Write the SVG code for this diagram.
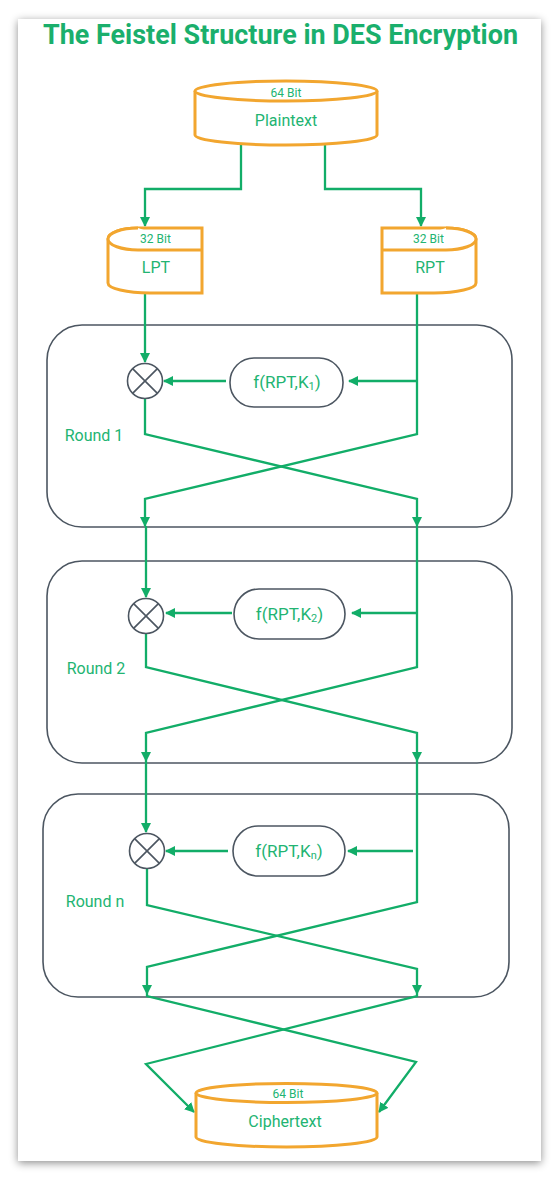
<svg xmlns="http://www.w3.org/2000/svg" width="560" height="1180" viewBox="0 0 560 1180">
<style>
.t{font-family:Roboto,"Liberation Sans",sans-serif;fill:#22b472;text-anchor:middle}
.cyl{fill:#fff;stroke:#f2a62f;stroke-width:3}
.rnd{fill:none;stroke:#4c5661;stroke-width:1.6}
.fb{fill:#fff;stroke:#4c5661;stroke-width:1.6}
.ln{fill:none;stroke:#12ad68;stroke-width:2.3;stroke-linejoin:miter}
.ar{marker-end:url(#ah)}
.xc{fill:#fff;stroke:#4c5661;stroke-width:1.6}
</style>
<defs>
<filter id="sh" x="-10%" y="-5%" width="120%" height="110%">
<feDropShadow dx="0" dy="2" stdDeviation="4" flood-color="#000" flood-opacity="0.45"/>
</filter>
<marker id="ah" viewBox="0 0 10 10" refX="9" refY="5" markerWidth="10" markerHeight="10" markerUnits="userSpaceOnUse" orient="auto">
<path d="M0,0 L10,5 L0,10 z" fill="#12ad68"/>
</marker>
</defs>
<rect x="0" y="0" width="560" height="1180" fill="#fff"/>
<rect x="18" y="19" width="523" height="1142" fill="#fff" filter="url(#sh)"/>
<text x="280.5" y="44" class="t" style="font-weight:700;font-size:27px;fill:#1aaf6c" textLength="475" lengthAdjust="spacingAndGlyphs">The Feistel Structure in DES Encryption</text>

<g id="rounds">
<rect id="round1" class="rnd" x="47" y="325" width="465" height="202" rx="35"/>
<rect id="round2" class="rnd" x="47" y="561" width="465" height="202" rx="35"/>
<rect id="roundn" class="rnd" x="43" y="794" width="466" height="203" rx="35"/>
<text x="94" y="441" class="t" style="font-size:16px">Round 1</text>
<text x="96" y="674" class="t" style="font-size:16px">Round 2</text>
<text x="95" y="907" class="t" style="font-size:16px">Round n</text>
</g>

<g id="connectors">
<path class="ln ar" d="M241,143 V189 H145 V226"/>
<path class="ln ar" d="M325,143 V189 H421 V226"/>
<path class="ln ar" d="M145,293 V362"/>
<path class="ln ar" d="M417,293 V434 L145,499 V526"/>
<path class="ln ar" d="M417,381 H349"/>
<path class="ln ar" d="M226,381 H164"/>
<path class="ln ar" d="M145,398 V434 L417,499 V526"/>
<path class="ln ar" d="M146,526 V597"/>
<path class="ln ar" d="M417,526 V667 L146,733 V761"/>
<path class="ln ar" d="M417,613 H352"/>
<path class="ln ar" d="M232,613 H166"/>
<path class="ln ar" d="M146,633 V667 L417,733 V761"/>
<path class="ln ar" d="M146,761 V832"/>
<path class="ln ar" d="M417,761 V902 L147,967 V994"/>
<path class="ln ar" d="M413,851 H348"/>
<path class="ln ar" d="M228,851 H166"/>
<path class="ln ar" d="M147,868 V905 L417,969 V994"/>
<path class="ln ar" d="M147,994 V996 L416,1062 L379,1112"/>
<path class="ln ar" d="M417,994 V996 L146,1064 L194,1112"/>
</g>

<g id="plaintext">
<path class="cyl" d="M195,91 V135 A91,10 0 0 0 377,135 V91"/>
<ellipse class="cyl" cx="286" cy="91" rx="91" ry="10"/>
<text x="286" y="97" class="t" style="font-size:12px">64 Bit</text>
<text x="286" y="126" class="t" style="font-size:16px">Plaintext</text>
</g>

<g id="lpt">
<path class="cyl" d="M108,239 V283 A42,10 0 0 0 150,293 H202 V228 H138 A30,11 0 0 0 108,239 Z"/>
<path class="cyl" d="M138,228 A30,11 0 0 0 138,250 H202" fill="none"/>
<text x="155.5" y="243" class="t" style="font-size:12px">32 Bit</text>
<text x="156" y="273" class="t" style="font-size:16px">LPT</text>
</g>

<g id="rpt">
<g transform="matrix(-1 0 0 1 584 0)">
<path class="cyl" d="M108,239 V283 A42,10 0 0 0 150,293 H202 V228 H138 A30,11 0 0 0 108,239 Z"/>
<path class="cyl" d="M138,228 A30,11 0 0 0 138,250 H202" fill="none"/>
</g>
<text x="428.5" y="243" class="t" style="font-size:12px">32 Bit</text>
<text x="430" y="273" class="t" style="font-size:16px">RPT</text>
</g>

<g id="xor1">
<circle class="xc" cx="145" cy="381" r="17.5"/>
<path class="rnd" d="M132.6,368.6 L157.4,393.4 M157.4,368.6 L132.6,393.4"/>
</g>
<g id="f1">
<rect class="fb" x="230" y="358" width="113" height="49" rx="24"/>
<text x="287" y="388" class="t" style="font-size:17px">f(RPT,K<tspan style="font-size:11px" dy="2">1</tspan><tspan dy="-2">)</tspan></text>
</g>

<g id="xor2">
<circle class="xc" cx="146" cy="616" r="17.5"/>
<path class="rnd" d="M133.6,603.6 L158.4,628.4 M158.4,603.6 L133.6,628.4"/>
</g>
<g id="f2">
<rect class="fb" x="234" y="589" width="111" height="50" rx="25"/>
<text x="289.5" y="620" class="t" style="font-size:17px">f(RPT,K<tspan style="font-size:11px" dy="2">2</tspan><tspan dy="-2">)</tspan></text>
</g>

<g id="xorn">
<circle class="xc" cx="147" cy="851" r="17.5"/>
<path class="rnd" d="M134.6,838.6 L159.4,863.4 M159.4,838.6 L134.6,863.4"/>
</g>
<g id="fn">
<rect class="fb" x="233" y="826" width="112" height="50" rx="25"/>
<text x="289" y="857" class="t" style="font-size:17px">f(RPT,K<tspan style="font-size:11px" dy="2">n</tspan><tspan dy="-2">)</tspan></text>
</g>

<g id="ciphertext">
<path class="cyl" d="M196,1093 V1137 A90.5,10 0 0 0 377,1137 V1093"/>
<ellipse class="cyl" cx="286.5" cy="1093" rx="90.5" ry="9.5"/>
<text x="288" y="1098" class="t" style="font-size:12px">64 Bit</text>
<text x="285" y="1127" class="t" style="font-size:16px">Ciphertext</text>
</g>
</svg>
